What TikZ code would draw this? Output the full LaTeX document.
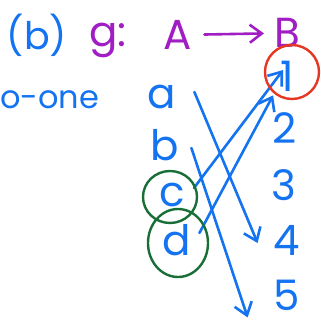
\documentclass[tikz,border=0pt]{standalone}
\usepackage{fontspec}
\setmainfont{Poppins}
\usetikzlibrary{arrows.meta}
\definecolor{penblue}{RGB}{20,115,240}
\definecolor{penpurple}{RGB}{160,30,195}
\definecolor{penred}{RGB}{230,55,35}
\definecolor{pengreen}{RGB}{25,110,55}

\begin{document}
\begin{tikzpicture}[x=1pt, y=-1pt,
    hand/.style={inner sep=0pt, font=\fontsize{42}{42}\selectfont},
    blueink/.style={hand, text=penblue},
    purpleink/.style={hand, text=penpurple},
    arr/.style={penblue, line width=2.6pt, line cap=round, -{Straight Barb[length=12pt, width=18pt, line width=2.6pt]}},
    ring/.style={line width=2.4pt}]
      \useasboundingbox (0,0) rectangle (321,325);

      % heading
      \node[blueink, font=\fontsize{38}{38}\selectfont] (lb) at (37,35) {(b)};
      \node[purpleink] (g) at (108,40) {g:};
      \node[purpleink] (A) at (178,35) {A};
      \node[purpleink] (B) at (287,33) {B};
      \node[blueink, font=\fontsize{32}{32}\selectfont, anchor=west] (one) at (0,100) {o-one};

      % domain
      \node[blueink] (a) at (162,97) {a};
      \node[blueink] (b) at (165,145) {b};
      \node[blueink] (c) at (172,195) {c};
      \node[blueink] (d) at (177,240) {d};

      % codomain
      \node[blueink] (n1) at (287,76) {1};
      \node[blueink] (n2) at (285,128) {2};
      \node[blueink] (n3) at (284,185) {3};
      \node[blueink] (n4) at (287,240) {4};
      \node[blueink] (n5) at (287,295) {5};

      \draw[arr, penpurple, shorten <=12pt, shorten >=10pt] (A) -- (B);

      \draw[arr] ([shift={(18,-5)}]a.east) -- ([shift={(-16,3)}]n4.west);
      \draw[arr] ([shift={(12,3)}]b.east) -- ([shift={(-26,7)}]n5.south west);
      \draw[arr] ([shift={(9,-7)}]c.east) -- ([shift={(3,-6)}]n1.west);
      \draw[arr] ([shift={(8,-7)}]d.east) -- ([shift={(-7,4)}]n1.south west);

      \draw[ring, penred] ([shift={(5,-4)}]n1.center) ellipse (27 and 27);
      \draw[ring, pengreen] ([shift={(-2,2)}]c.center) ellipse (27 and 26);
      \draw[ring, pengreen] ([shift={(1,3)}]d.center) ellipse (30 and 34);
\end{tikzpicture}
\end{document}
